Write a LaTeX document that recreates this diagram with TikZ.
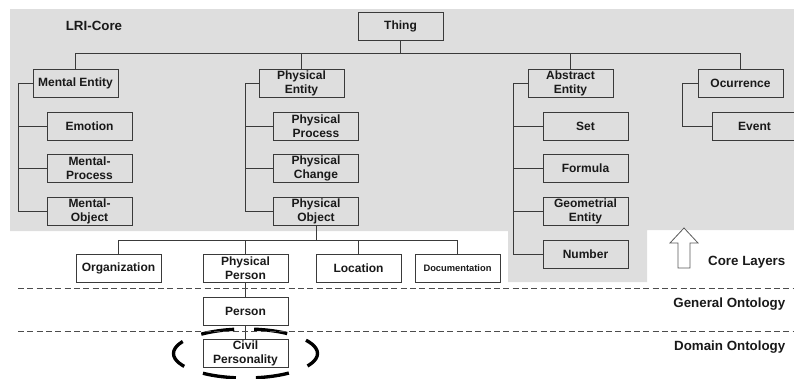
\documentclass[tikz,border=0pt]{standalone}
\usepackage{fontspec}
\setmainfont{Liberation Sans}
\definecolor{coregray}{HTML}{DEDEDE}
\definecolor{boxline}{HTML}{3A3A3A}
\begin{document}
\begin{tikzpicture}[x=.75pt,y=-.75pt,
		box/.style={draw=boxline,line width=.75pt,minimum width=63.75pt,minimum height=21pt,inner sep=.5pt,align=center,font=\fontsize{9}{10.5}\selectfont\bfseries,text=black!90},
		wbox/.style={box,fill=white},
		link/.style={draw=boxline,line width=.6pt},
		layer/.style={font=\fontsize{10}{12}\selectfont\bfseries,text=black!90,anchor=east},
		sep/.style={draw=black!70,line width=.6pt,dash pattern=on 4.5pt off 2.5pt}]
	\useasboundingbox (0,0) rectangle (794,379);
	% core layer background
	\fill[coregray] (10,9)--(794,9)--(794,230)--(647,230)--(647,282)--(508,282)--(508,231)--(10,231)--cycle;
	\node[font=\fontsize{10}{12}\selectfont\bfseries,text=black!90] (lri) at (94,26){LRI-Core};
	% top level
	\node[box] (thing) at (400.5,26.5){Thing};
	\node[box] (ment) at (75.5,83){Mental Entity};
	\node[box] (phys) at (301.5,83){Physical\\Entity};
	\node[box] (abst) at (570.5,83){Abstract\\Entity};
	\node[box] (occ) at (740.5,83){Ocurrence};
	\foreach \n in {ment,phys,abst,occ}
		\draw[link] (thing.south)--++(0,12)-|(\n.north);
	% mental entity
	\node[box] (emo) at (89.5,126){Emotion};
	\node[box] (mproc) at (89.5,168.5){Mental-\\Process};
	\node[box] (mobj) at (89.5,211.5){Mental-\\Object};
	\foreach \n in {emo,mproc,mobj}
		\draw[link] (ment.west)--++(-14,0)|-(\n.west);
	% physical entity
	\node[box] (pproc) at (316,126){Physical\\Process};
	\node[box] (pchg) at (316,168.5){Physical\\Change};
	\node[box,line width=1.3pt] (pobj) at (316,211.5){Physical\\Object};
	\foreach \n in {pproc,pchg,pobj}
		\draw[link] (phys.west)--++(-13,0)|-(\n.west);
	% abstract entity
	\node[box] (set) at (585.5,126){Set};
	\node[box] (form) at (585.5,168.5){Formula};
	\node[box] (geo) at (585.5,211.5){Geometrial\\Entity};
	\node[box] (num) at (585.5,254){Number};
	\foreach \n in {set,form,geo,num}
		\draw[link] (abst.west)--++(-14,0)|-(\n.west);
	% ocurrence
	\node[box] (event) at (754.5,126){Event};
	\draw[link] (occ.west)--++(-15,0)|-(event.west);
	% physical object
	\node[wbox] (org) at (118.5,268.5){Organization};
	\node[wbox] (pper) at (245.5,268.5){Physical\\Person};
	\node[wbox] (loc) at (358.5,268.5){Location};
	\node[wbox,font=\fontsize{7}{8}\selectfont\bfseries] (doc) at (457.5,268.5){Documentation};
	\foreach \n in {org,pper,loc,doc}
		\draw[link] (pobj.south)--++(0,14)-|(\n.north);
	% general and domain ontology
	\node[wbox] (person) at (245.5,311){Person};
	\node[wbox] (civil) at (245.5,353.5){Civil\\Personality};
	\draw[link] (pper)--(person);
	\draw[link] (person)--(civil);
	\draw[line width=2.5pt,dash pattern=on 25pt off 15pt,dash phase=12.5pt] (civil.center) ellipse (72 and 24.5);
	% layer separators
	\draw[sep] (18,288)--(794,288);
	\draw[sep] (18,331)--(794,331);
	% up arrow
	\draw[draw=black!65,fill=white,line width=.6pt] (684,228)--(698,243)--(690,243)--(690,268)--(678,268)--(678,243)--(670,243)--cycle;
	\node[layer] (core) at (790,262){Core Layers};
	\node[layer] (gen) at (790,304){General Ontology};
	\node[layer] (dom) at (790,347){Domain Ontology};
\end{tikzpicture}
\end{document}
